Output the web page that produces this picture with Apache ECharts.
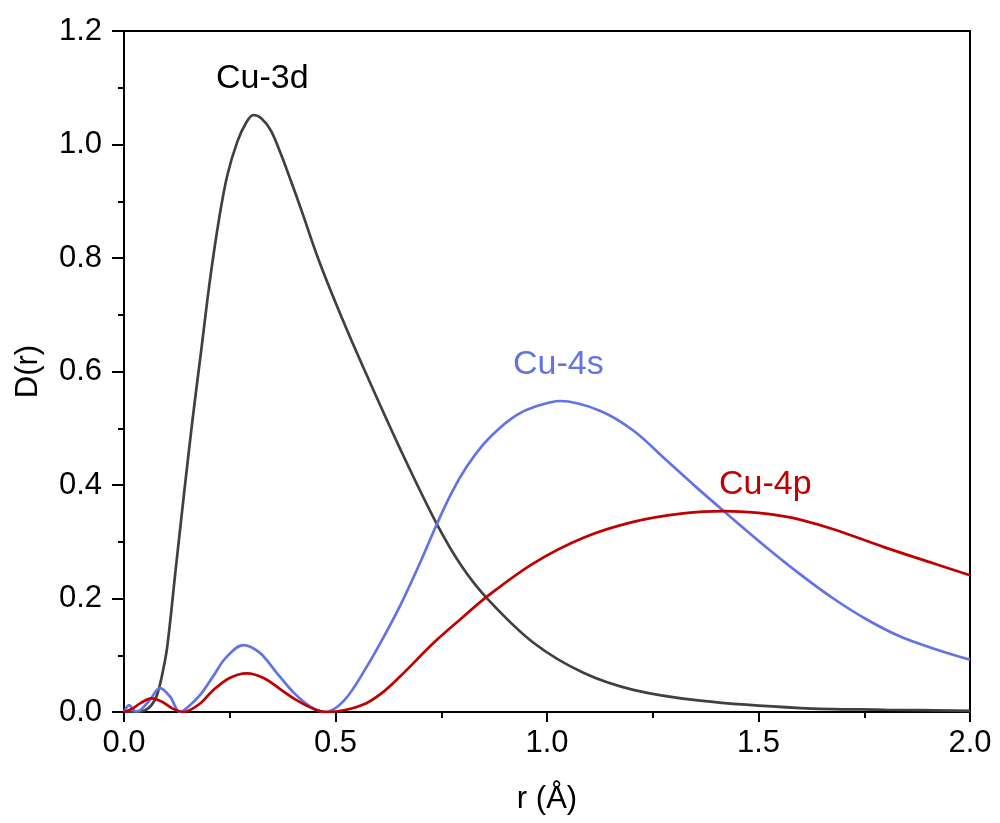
<!DOCTYPE html>
<html>
<head>
<meta charset="utf-8">
<script src="https://cdn.jsdelivr.net/npm/echarts@6/dist/echarts.min.js"></script>
<style>
  html, body { margin: 0; padding: 0; background: #fff; }
  #chart { width: 1000px; height: 823px; }
</style>
</head>
<body>
<div id="chart"></div>
<script>
// Radial distribution functions D(r) of Cu valence orbitals
const xTicks = [0.0, 0.5, 1.0, 1.5, 2.0];
const yTicks = [0.0, 0.2, 0.4, 0.6, 0.8, 1.0, 1.2];

const r3d = [0, 0.03, 0.05, 0.065, 0.078, 0.09, 0.102, 0.122, 0.142, 0.162, 0.183, 0.203, 0.225, 0.244, 0.268, 0.29, 0.306, 0.325, 0.347, 0.37, 0.394, 0.42, 0.46, 0.512, 0.57, 0.652, 0.739, 0.8, 0.861, 0.968, 1.086, 1.204, 1.362, 1.6, 1.8, 2.0];
const d3d = [0, 0, 0.003, 0.012, 0.03, 0.065, 0.114, 0.25, 0.385, 0.515, 0.64, 0.76, 0.87, 0.945, 1.005, 1.04, 1.052, 1.046, 1.025, 0.985, 0.937, 0.883, 0.797, 0.70, 0.6, 0.465, 0.332, 0.255, 0.198, 0.122, 0.069, 0.039, 0.02, 0.007, 0.004, 0.002];

const r4s = [0, 0.006, 0.012, 0.02, 0.028, 0.04, 0.061, 0.085, 0.109, 0.132, 0.15, 0.18, 0.21, 0.24, 0.282, 0.32, 0.36, 0.40, 0.44, 0.475, 0.52, 0.574, 0.61, 0.652, 0.70, 0.739, 0.775, 0.81, 0.85, 0.889, 0.93, 0.968, 1.031, 1.125, 1.204, 1.283, 1.35, 1.421, 1.519, 1.598, 1.677, 1.756, 1.835, 1.913, 2.0];
const d4s = [0, 0.008, 0.012, 0.006, 0.001, 0.004, 0.021, 0.042, 0.027, 0, 0.008, 0.03, 0.062, 0.095, 0.118, 0.105, 0.07, 0.035, 0.01, 0, 0.02, 0.08, 0.127, 0.186, 0.263, 0.33, 0.387, 0.432, 0.472, 0.501, 0.524, 0.537, 0.548, 0.531, 0.496, 0.443, 0.398, 0.352, 0.29, 0.243, 0.2, 0.163, 0.133, 0.112, 0.092];

const r4p = [0, 0.02, 0.04, 0.065, 0.09, 0.115, 0.14, 0.18, 0.21, 0.25, 0.29, 0.33, 0.37, 0.41, 0.45, 0.48, 0.52, 0.574, 0.614, 0.652, 0.731, 0.79, 0.861, 0.968, 1.086, 1.204, 1.322, 1.421, 1.5, 1.55, 1.598, 1.677, 1.795, 1.913, 2.0];
const d4p = [0, 0.006, 0.016, 0.024, 0.018, 0.006, 0, 0.015, 0.038, 0.06, 0.068, 0.06, 0.04, 0.02, 0.005, 0, 0.003, 0.016, 0.036, 0.062, 0.121, 0.16, 0.205, 0.262, 0.307, 0.335, 0.350, 0.354, 0.351, 0.346, 0.339, 0.322, 0.291, 0.262, 0.241];

const names = ['Cu-3d', 'Cu-4s', 'Cu-4p'];
const colors = ['#404040', '#6373e6', '#c00000'];
const labelColors = ['#000000', '#6373e6', '#c00000'];

function pairs(xs, ys) { return xs.map((x, i) => [x, ys[i]]); }

const FONT = '"Liberation Sans", Arial, sans-serif';
const chart = echarts.init(document.getElementById('chart'));

function lineSeries(name, data, color) {
  return {
    name: name,
    type: 'line',
    data: data,
    showSymbol: false,
    smooth: 0.35,
    lineStyle: { color: color, width: 2.7 },
    itemStyle: { color: color },
    z: 3
  };
}

chart.setOption({
  animation: false,
  backgroundColor: '#fff',
  grid: { left: 124, right: 30, top: 31, bottom: 111, show: true, borderColor: '#000', borderWidth: 2, backgroundColor: 'transparent' },
  xAxis: {
    type: 'value', min: xTicks[0], max: xTicks[xTicks.length - 1], interval: 0.5,
    name: 'r (Å)', nameLocation: 'middle', nameGap: 72,
    nameTextStyle: { color: '#000', fontSize: 31, fontFamily: FONT },
    axisLine: { show: true, onZero: false, lineStyle: { color: '#000', width: 2 } },
    axisTick: { show: true, inside: false, length: 10, lineStyle: { color: '#000', width: 2 } },
    minorTick: { show: true, splitNumber: 2, length: 6, lineStyle: { color: '#000', width: 2 } },
    splitLine: { show: false },
    axisLabel: { color: '#000', fontSize: 31, fontFamily: FONT, margin: 16, formatter: v => v.toFixed(1) }
  },
  yAxis: {
    type: 'value', min: yTicks[0], max: yTicks[yTicks.length - 1], interval: 0.2,
    name: 'D(r)', nameLocation: 'middle', nameGap: 80, nameRotate: 90,
    nameTextStyle: { color: '#000', fontSize: 31, fontFamily: FONT },
    axisLine: { show: true, onZero: false, lineStyle: { color: '#000', width: 2 } },
    axisTick: { show: true, inside: false, length: 12, lineStyle: { color: '#000', width: 2 } },
    minorTick: { show: true, splitNumber: 2, length: 6, lineStyle: { color: '#000', width: 2 } },
    splitLine: { show: false },
    axisLabel: { color: '#000', fontSize: 31, fontFamily: FONT, margin: 22, formatter: v => v.toFixed(1) }
  },
  series: [
    lineSeries(names[0], pairs(r3d, d3d), colors[0]),
    lineSeries(names[1], pairs(r4s, d4s), colors[1]),
    lineSeries(names[2], pairs(r4p, d4p), colors[2])
  ],
  graphic: [
    { type: 'text', left: 216, top: 62, style: { text: names[0], fill: labelColors[0], font: '34px ' + FONT } },
    { type: 'text', left: 513, top: 348, style: { text: names[1], fill: labelColors[1], font: '34px ' + FONT } },
    { type: 'text', left: 719, top: 468, style: { text: names[2], fill: labelColors[2], font: '34px ' + FONT } }
  ]
});
</script>
</body>
</html>
